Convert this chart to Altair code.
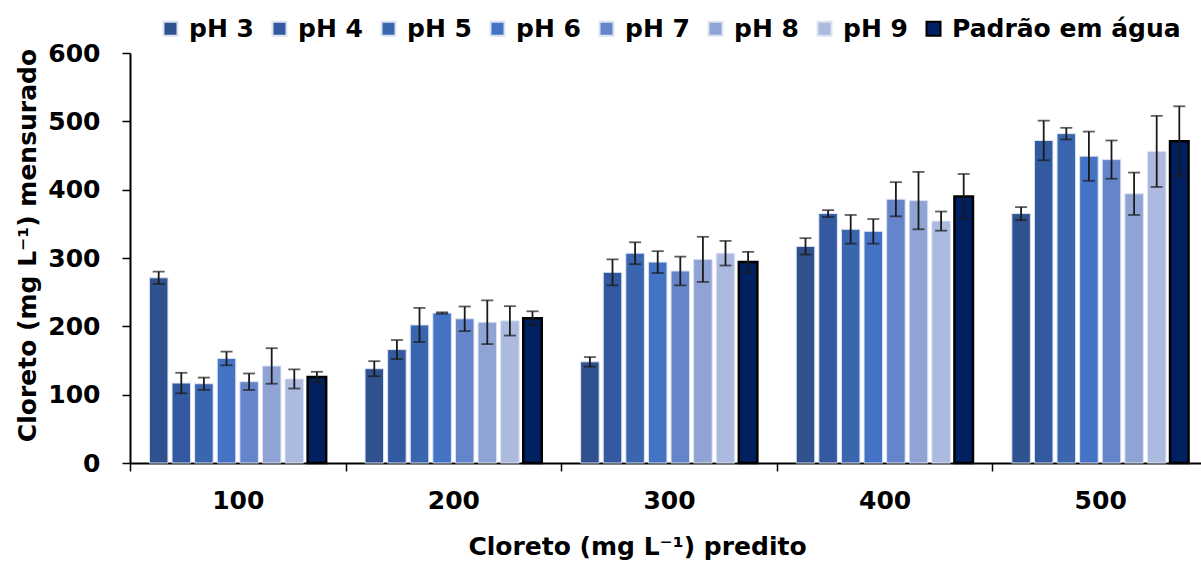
import altair as alt
import pandas as pd

categories = ["100", "200", "300", "400", "500"]
series = ["pH 3", "pH 4", "pH 5", "pH 6", "pH 7", "pH 8", "pH 9", "Padrão em água"]

ph3 = [271, 138, 148, 317, 365]
ph4 = [117, 166, 279, 365, 472]
ph5 = [116, 202, 307, 342, 482]
ph6 = [153, 219.5, 294, 339, 449]
ph7 = [119, 211, 281, 386, 444]
ph8 = [142, 206, 298, 384, 394]
ph9 = [123, 208, 307, 354, 456]
padrao = [126, 212, 294, 390, 471]

err_ph3 = [9, 11, 7, 12, 9.5]
err_ph4 = [15, 14, 19, 5, 29]
err_ph5 = [9, 25, 16, 21, 8.5]
err_ph6 = [10, 1, 16, 18, 36]
err_ph7 = [12, 18, 21, 25, 28]
err_ph8 = [26, 32, 33, 42, 31]
err_ph9 = [14, 21.5, 18, 14, 52]
err_padrao = [7.5, 10, 15, 33, 51]

fill_colors = ["#2F528F", "#335AA1", "#3A65AF", "#4472C4", "#6585CB", "#8FA4D5", "#ADBADF", "#002060"]
stroke_colors = ["#DCE3F1"] * 7 + ["#000000"]

values = [ph3, ph4, ph5, ph6, ph7, ph8, ph9, padrao]
errors = [err_ph3, err_ph4, err_ph5, err_ph6, err_ph7, err_ph8, err_ph9, err_padrao]

rows = []
for s, vals, errs in zip(series, values, errors):
    for c, v, e in zip(categories, vals, errs):
        rows.append({"cat": c, "series": s, "value": v, "lo": v - e, "hi": v + e})
df = pd.DataFrame(rows)

FONT = "DejaVu Sans"
FS = 25

x_enc = alt.X(
    "cat:N",
    sort=categories,
    scale=alt.Scale(paddingInner=0, paddingOuter=0, range=[0, 1078]),
    axis=alt.Axis(
        title="Cloreto (mg L⁻¹) predito",
        labelAngle=0,
        labelFont=FONT, labelFontSize=FS, labelFontWeight="bold", labelColor="black",
        labelPadding=17,
        tickBand="extent", tickSize=8, tickColor="black", tickWidth=1.5,
        domainColor="black", domainWidth=2,
        titleFont=FONT, titleFontSize=FS, titleFontWeight="bold", titleColor="black",
        titleX=507, titleY=91, titleAlign="center", titleBaseline="alphabetic",
    ),
)
xoff = alt.XOffset("series:N", sort=series, scale=alt.Scale(paddingInner=0.18, paddingOuter=0.86))
y_scale = alt.Scale(domain=[0, 600], nice=False)

bars = alt.Chart(df).mark_bar().encode(
    x=x_enc,
    xOffset=xoff,
    y=alt.Y(
        "value:Q",
        scale=y_scale,
        axis=alt.Axis(
            title="Cloreto (mg L⁻¹)  mensurado",
            values=[0, 100, 200, 300, 400, 500, 600],
            grid=False,
            labelFont=FONT, labelFontSize=FS, labelFontWeight="bold", labelColor="black",
            labelPadding=22,
            tickSize=8, tickColor="black", tickWidth=1.5,
            domainColor="black", domainWidth=2,
            titleFont=FONT, titleFontSize=FS, titleFontWeight="bold", titleColor="black",
            titleAngle=270, titleX=-95, titleY=192, titleAlign="center", titleBaseline="alphabetic",
        ),
    ),
    color=alt.Color(
        "series:N",
        sort=series,
        scale=alt.Scale(domain=series, range=fill_colors),
        legend=alt.Legend(
            title=None, orient="none", direction="horizontal", columns=8,
            legendX=28, legendY=-37,
            symbolType="square", symbolSize=196, symbolStrokeWidth=2,
            labelFont=FONT, labelFontSize=FS, labelFontWeight="bold", labelColor="black",
            labelOffset=6, columnPadding=13, padding=0, labelLimit=500,
        ),
    ),
    stroke=alt.Stroke("series:N", sort=series, scale=alt.Scale(domain=series, range=stroke_colors)),
    strokeWidth=alt.condition("datum.series === 'Padrão em água'", alt.value(2.5), alt.value(1)),
)

rules = alt.Chart(df).mark_rule(color="#1a1a1a", strokeWidth=1.8).encode(
    x=alt.X("cat:N", sort=categories), xOffset=alt.XOffset("series:N", sort=series),
    y=alt.Y("lo:Q", scale=y_scale), y2="hi:Q",
)
caps_lo = alt.Chart(df).mark_tick(color="#1a1a1a", size=12, thickness=1.8).encode(
    x=alt.X("cat:N", sort=categories), xOffset=alt.XOffset("series:N", sort=series),
    y=alt.Y("lo:Q", scale=y_scale),
)
caps_hi = alt.Chart(df).mark_tick(color="#1a1a1a", size=12, thickness=1.8).encode(
    x=alt.X("cat:N", sort=categories), xOffset=alt.XOffset("series:N", sort=series),
    y=alt.Y("hi:Q", scale=y_scale),
)

chart = alt.layer(bars, rules, caps_lo, caps_hi).properties(
    width=1071, height=410,
    autosize=alt.AutoSizeParams(type="none"),
    padding={"left": 130, "top": 53, "right": 0, "bottom": 100},
    background="white",
).configure_view(stroke=None)

chart.save("out.html", embed_options={"renderer": "svg", "actions": False})
